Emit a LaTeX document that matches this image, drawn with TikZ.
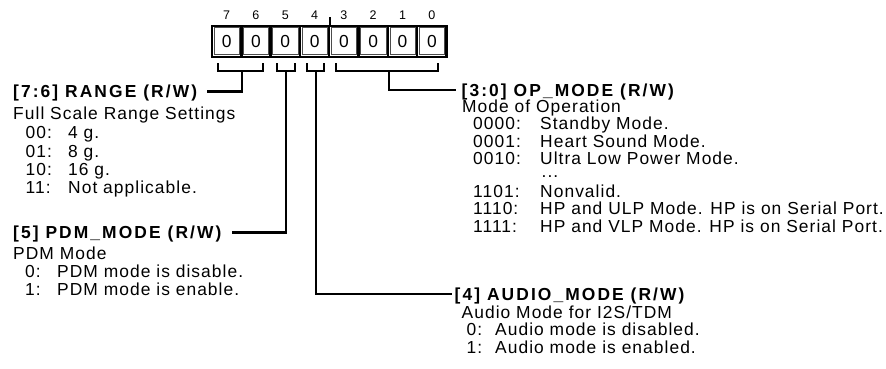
\documentclass[tikz,border=0pt]{standalone}
\usepackage{fontspec}
\setmainfont{Liberation Sans}[LetterSpace=6]
\newfontface\titlefont{Liberation Sans Bold}[LetterSpace=12]
\newfontface\bitfont{Liberation Sans}
\begin{document}
\begin{tikzpicture}[x=1pt,y=-1pt,
  txt/.style={anchor=base west,inner sep=0pt,font=\fontsize{17.4}{18}\selectfont},
  ttl/.style={anchor=base west,inner sep=0pt,font=\titlefont\fontsize{17.4}{18}\selectfont,text height=12.4pt,text depth=0pt},
  cellbox/.style={draw,line width=2.4pt,minimum width=29.3125pt,minimum height=31pt,inner sep=0pt,font=\bitfont\fontsize{17.4}{18}\selectfont},
  bitlbl/.style={inner sep=0pt,font=\bitfont\fontsize{12.5}{13}\selectfont},
  brk/.style={line width=2.4pt,line join=miter},
  conn/.style={line width=2.4pt,line join=miter}]
\useasboundingbox[fill=white] (0,0) rectangle (886,368);
% register cells
\foreach \i in {0,...,7}{
  \pgfmathsetmacro\b{int(7-\i)}
  \pgfmathsetmacro\xc{212+29.3125*\i+14.65625}
  \node[cellbox] (cell\b) at (\xc,41.2) {0};
  \draw[line width=0.6pt,black!70] ([shift={(3.2pt,-3.2pt)}]cell\b.north west) rectangle ([shift={(-3.2pt,3.2pt)}]cell\b.south east);
  \node[bitlbl] (bit\b) at (\xc,15.5) {\b};
}
\draw[line width=2pt] (cell4.north east) -- ++(0pt,7.7pt);
% brackets
\draw[brk] (218,63) -- (218,71) -- (263,71) -- (263,63);
\draw[brk] (277,63) -- (277,71) -- (295,71) -- (295,63);
\draw[brk] (307,63) -- (307,71) -- (324,71) -- (324,63);
\draw[brk] (336,63) -- (336,71) -- (438,71) -- (438,63);
\coordinate (s76) at (242,71);
\coordinate (s5) at (286,71);
\coordinate (s4) at (316,71);
\coordinate (s30) at (389,71);
% RANGE
\node[ttl] (range) at (13,97.5) {[7:6] RANGE (R/W)};
\node[txt] (rangeD) at (13,119.5) {Full Scale Range Settings};
\node[txt] (r0c) at (25.5,138.8) {00:};
\node[txt] (r0t) at (68,138.8) {4 g.};
\node[txt] (r1c) at (25.5,157.2) {01:};
\node[txt] (r1t) at (68,157.2) {8 g.};
\node[txt] (r2c) at (25.5,175.5) {10:};
\node[txt] (r2t) at (68,175.5) {16 g.};
\node[txt] (r3c) at (25.5,193.9) {11:};
\node[txt] (r3t) at (68,193.9) {Not applicable.};
% PDM
\node[ttl] (pdm) at (13,238.5) {[5] PDM\_MODE (R/W)};
\node[txt] (pdmD) at (13,259) {PDM Mode};
\node[txt] (p0c) at (25,277.3) {0:};
\node[txt] (p0t) at (57,277.3) {PDM mode is disable.};
\node[txt] (p1c) at (25,295.6) {1:};
\node[txt] (p1t) at (57,295.6) {PDM mode is enable.};
% OP
\node[ttl] (op) at (461.5,96) {[3:0] OP\_MODE (R/W)};
\node[txt] (opD) at (462,112.5) {Mode of Operation};
\node[txt] (o0c) at (473,129.5) {0000:};
\node[txt] (o0t) at (540,129.5) {Standby Mode.};
\node[txt] (o1c) at (473,147) {0001:};
\node[txt] (o1t) at (540,147) {Heart Sound Mode.};
\node[txt] (o2c) at (473,164.5) {0010:};
\node[txt] (o2t) at (540,164.5) {Ultra Low Power Mode.};
\node[txt] (odots) at (541.5,177) {...};
\node[txt] (o3c) at (473,197) {1101:};
\node[txt] (o3t) at (540,197) {Nonvalid.};
\node[txt] (o4c) at (473,214.5) {1110:};
\node[txt] (o4t) at (540,214.5) {HP and ULP Mode. HP is on Serial Port.};
\node[txt] (o5c) at (473,232) {1111:};
\node[txt] (o5t) at (540,232) {HP and VLP Mode. HP is on Serial Port.};
% AUDIO
\node[ttl] (audio) at (454.5,300) {[4] AUDIO\_MODE (R/W)};
\node[txt] (audioD) at (461.5,318) {Audio Mode for I2S/TDM};
\node[txt] (a0c) at (466.5,335.5) {0:};
\node[txt] (a0t) at (495,335.5) {Audio mode is disabled.};
\node[txt] (a1c) at (466.5,353) {1:};
\node[txt] (a1t) at (495,353) {Audio mode is enabled.};
% connectors
\draw[conn] (s76) |- ([xshift=10pt]range.east);
\draw[conn] (s5) |- ([xshift=10pt]pdm.east);
\draw[conn] (s4) |- ([xshift=-3pt]audio.west);
\draw[conn] (s30) |- ([xshift=-6pt]op.west);
\end{tikzpicture}
\end{document}
